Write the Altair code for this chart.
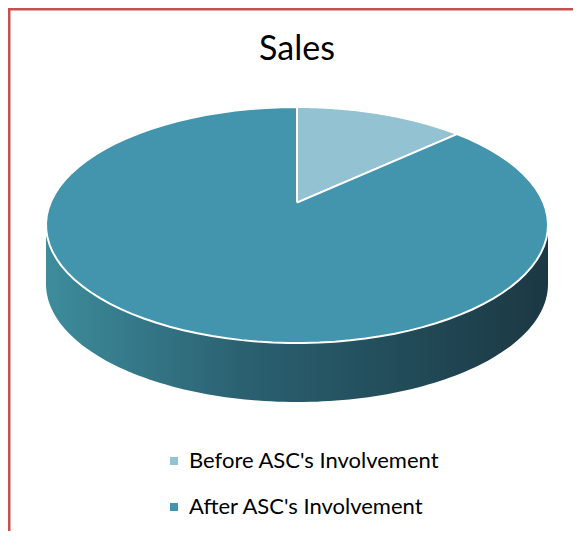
import altair as alt
import pandas as pd

# ---- data ----
categories = ["Before ASC's Involvement", "After ASC's Involvement"]
values = [11, 89]
colors = ["#93C3D3", "#4295AC"]
title_text = "Sales"

# ---- layout / style ----
W, H = 565, 523
CX, CY = 289, 217      # ellipse centre (px)
RX, RY = 251, 118      # ellipse radii (px)
DEPTH = 0.5            # side depth in y-units
APEX_Y = 0.19          # perspective shift of the slice apex
N = 90                 # arc samples per slice
M = 120                # samples for the side wall

xs = alt.Scale(domain=[-1, 1], range=[CX - RX, CX + RX])
ys = alt.Scale(domain=[-1, 1], range=[CY + RY, CY - RY])

slices = pd.DataFrame({"category": categories, "value": values,
                       "idx": list(range(len(categories)))})

frame_col = "#C5504F"
blank = alt.Data(values=[{}])

top_rule = alt.Chart(blank).mark_rule(color=frame_col, strokeWidth=3).encode(
    x=alt.value(0), x2=alt.value(W), y=alt.value(1))
left_rule = alt.Chart(blank).mark_rule(color=frame_col, strokeWidth=3).encode(
    x=alt.value(1), y=alt.value(0), y2=alt.value(H))

side = alt.Chart(alt.sequence(0, M + 1, as_="k")).transform_calculate(
    t=f"PI/2 + PI*datum.k/{M}",
).transform_calculate(
    px="sin(datum.t)", py="cos(datum.t)", py2=f"cos(datum.t) - {DEPTH}"
).mark_area(
    color=alt.Gradient(
        gradient="linear",
        stops=[alt.GradientStop(color="#3D8C9C", offset=0),
               alt.GradientStop(color="#2A6070", offset=0.4),
               alt.GradientStop(color="#1B3843", offset=1)],
        x1=0, x2=1, y1=0, y2=0)
).encode(
    x=alt.X("px:Q", scale=xs, axis=None),
    y=alt.Y("py:Q", scale=ys, axis=None),
    y2="py2:Q",
)

wedges = alt.Chart(slices).transform_joinaggregate(
    total="sum(value)"
).transform_window(
    cum="sum(value)", sort=[alt.SortField("idx")], frame=[None, 0]
).transform_calculate(
    a0="(datum.cum - datum.value) / datum.total * 2 * PI",
    a1="datum.cum / datum.total * 2 * PI",
    k=f"sequence(0, {N + 3})",
).transform_flatten(["k"]).transform_calculate(
    edge=f"datum.k >= 1 && datum.k <= {N + 1}",
    t=f"datum.a0 + (datum.a1 - datum.a0) * (datum.k - 1) / {N}",
).transform_calculate(
    px="datum.edge ? sin(datum.t) : 0",
    py=f"datum.edge ? cos(datum.t) : {APEX_Y}",
).mark_line(stroke="white", strokeWidth=2, strokeJoin="round").encode(
    x=alt.X("px:Q", scale=xs, axis=None),
    y=alt.Y("py:Q", scale=ys, axis=None),
    order="k:Q",
    detail="category:N",
    fill=alt.Fill(
        "category:N",
        scale=alt.Scale(domain=categories, range=colors),
        legend=alt.Legend(
            title=None, orient="none", legendX=155, legendY=442,
            direction="vertical", symbolType="square", symbolSize=64,
            symbolStrokeWidth=0, labelFont="Lato", labelFontSize=22,
            labelColor="black", rowPadding=24, labelOffset=4, labelLimit=500,
        ),
    ),
)

title = alt.Chart(blank).mark_text(
    text=title_text, font="Lato", fontSize=34, color="black",
    align="center", baseline="alphabetic"
).encode(x=alt.value(CX), y=alt.value(52))

chart = alt.layer(top_rule, left_rule, side, wedges, title).properties(
    width=W, height=H,
    autosize=alt.AutoSizeParams(type="none"),
    padding=0,
).configure_view(stroke=None)

chart.save("out.html", embed_options={"renderer": "svg", "actions": False})
